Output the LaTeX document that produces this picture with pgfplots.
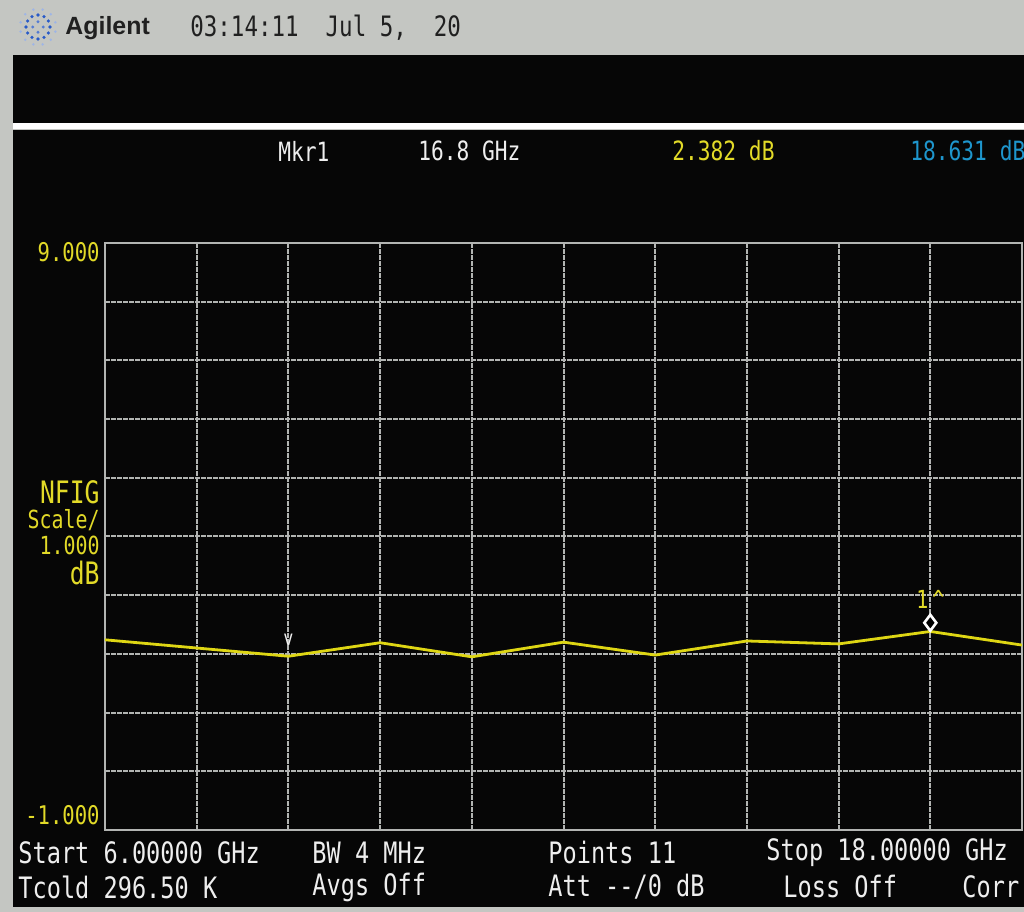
\documentclass[border=0pt]{standalone}
\usepackage{fontspec}
\usepackage{pgfplots}
\pgfplotsset{compat=1.18}
\setmainfont{DejaVu Sans Mono}[FakeStretch=0.8]
\newfontfamily\agfont{Liberation Sans}
\newfontfamily\nfa{DejaVu Sans Mono}[FakeStretch=0.8]

\definecolor{framegray}{RGB}{196,198,194}
\definecolor{scr}{RGB}{6,6,6}
\definecolor{txtwhite}{RGB}{238,238,238}
\definecolor{txtyellow}{RGB}{226,218,40}
\definecolor{traceyellow}{RGB}{222,214,20}
\definecolor{txtcyan}{RGB}{30,150,205}
\definecolor{gridgray}{RGB}{178,180,178}
\definecolor{hdrtext}{RGB}{32,32,32}
\definecolor{agblue}{RGB}{40,90,200}

% noise figure trace, 11 points, 6-18 GHz
\pgfplotstableread{
f    nf
6.0  2.24
7.2  2.10
8.4  1.96
9.6  2.19
10.8 1.95
12.0 2.20
13.2 1.98
14.4 2.22
15.6 2.17
16.8 2.382
18.0 2.15
}\trace

\begin{document}
\begin{tikzpicture}[x=1bp,y=1bp]
\useasboundingbox (0,0) rectangle (512,456);
\fill[framegray] (0,0) rectangle (512,456);
\fill[scr] (6.5,394.5) rectangle (512,428.5);
\fill[white] (6.5,391.5) rectangle (512,394.5);
\fill[scr] (6.5,2.5) rectangle (512,391);

% header
\foreach \a in {0,30,...,330}
  \fill[agblue] ({19+6*cos(\a)},{442.5+6*sin(\a)}) circle (0.9);
\foreach \a in {15,45,...,345}
  \fill[agblue!45] ({19+9*cos(\a)},{442.5+9*sin(\a)}) circle (0.7);
\foreach \a in {0,90,180,270}
  \fill[agblue!80] ({19+2.6*cos(\a)},{442.5+2.6*sin(\a)}) circle (0.8);
\node[anchor=west, inner sep=0, text=hdrtext, font=\agfont\bfseries\fontsize{12.5}{13}\selectfont] at (32.5,442) {Agilent};
\node[anchor=west, inner sep=0, text=hdrtext, font=\nfa\fontsize{14.1}{14}\selectfont] at (95,442) {03:14:11\ \ Jul 5,\ \ 20};

% marker readout
\begin{scope}[every node/.style={anchor=west, inner sep=0, font=\nfa\fontsize{13.3}{14}\selectfont}]
\node[text=txtwhite] at (139,380.5) {Mkr1};
\node[text=txtwhite] at (209,380.5) {16.8 GHz};
\node[text=txtyellow] at (336,380.5) {2.382 dB};
\node[text=txtcyan] at (455,380.5) {18.631 dB};
\end{scope}

% left scale labels
\begin{scope}[every node/.style={anchor=east, inner sep=0, text=txtyellow}]
\node[font=\nfa\fontsize{12.9}{13}\selectfont] at (50,330) {9.000};
\node[font=\nfa\fontsize{12.9}{13}\selectfont] at (50,48.5) {-1.000};
\node[font=\nfa\fontsize{15.5}{16}\selectfont] at (50,210) {NFIG};
\node[font=\nfa\fontsize{12.5}{13}\selectfont] at (50,196) {Scale/};
\node[font=\nfa\fontsize{12.5}{13}\selectfont] at (50,183.5) {1.000};
\node[font=\nfa\fontsize{15.5}{16}\selectfont] at (50,169.5) {dB};
\end{scope}

% bottom status lines
\begin{scope}[every node/.style={anchor=west, inner sep=0, text=txtwhite, font=\nfa\fontsize{14.8}{15}\selectfont}]
\node at (9,29.5) {Start 6.00000 GHz};
\node at (156,29.5) {BW 4 MHz};
\node at (274,29.5) {Points 11};
\node at (383,29.5) {Stop 18.00000 GHz};
\node at (9,12.5) {Tcold 296.50 K};
\node at (156,12.5) {Avgs Off};
\node at (274,12.5) {Att --/0 dB};
\node at (391.5,12.5) {Loss Off};
\node at (481,12.5) {Corr};
\end{scope}

\begin{axis}[
    at={(52.5bp,41bp)}, anchor=south west,
    scale only axis,
    width=458.5bp, height=293.5bp,
    xmin=6, xmax=18, ymin=-1, ymax=9,
    xtick={6,7.2,8.4,9.6,10.8,12,13.2,14.4,15.6,16.8,18},
    ytick={-1,0,1,2,3,4,5,6,7,8,9},
    xticklabels={}, yticklabels={},
    major tick length=0,
    grid=major,
    grid style={gridgray, line width=1bp, dash pattern=on 2.5bp off 0.5bp},
    axis line style={gridgray, line width=1.2bp},
    clip=false,
  ]
  \addplot[traceyellow, line width=1.4bp] table[x=f, y=nf] {\trace};
  \addplot[only marks, mark=diamond*, mark size=4bp,
    mark options={draw=white, fill=black, line width=1.3bp}] coordinates {(16.8,2.53)};
  \addplot[only marks, mark=text, text mark={1\,\textasciicircum}, text mark as node=true,
    text mark style={text=txtyellow, font=\nfa\fontsize{12.5}{12}\selectfont}] coordinates {(16.8,2.92)};
  \addplot[only marks, mark=text, text mark={v}, text mark as node=true,
    text mark style={text=txtwhite, font=\nfa\fontsize{10.5}{10}\selectfont}] coordinates {(8.4,2.24)};
\end{axis}
\end{tikzpicture}
\end{document}
